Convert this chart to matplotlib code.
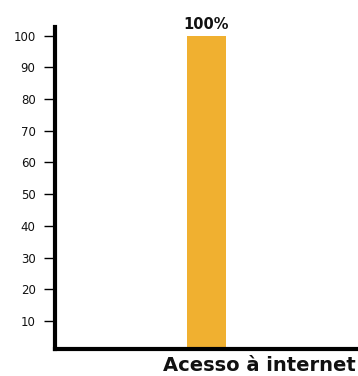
import matplotlib
matplotlib.use('Agg')
import matplotlib.pyplot as plt

# Data
categories = ['Acesso à internet']
values = [100]
yticks = [10, 20, 30, 40, 50, 60, 70, 80, 90, 100]

plt.rcParams['font.family'] = ['DejaVu Sans']

fig = plt.figure(figsize=(3.58, 3.76), dpi=100)
ax = fig.add_axes([55 / 358, 1 - 348.5 / 376, 303 / 358, (348.5 - 27) / 376])

bars = ax.bar([0], values, width=0.13, color='#F0B030', zorder=2)
for b, v in zip(bars, values):
    ax.text(b.get_x() + b.get_width() / 2, v + 1.2, f'{v}%', ha='center', va='bottom',
            fontsize=10.5, fontweight='bold', color='#111111')

ax.set_xlim(-0.5, 0.5)
ax.set_ylim(1.3, 102.7)
ax.set_yticks(yticks)
ax.set_yticklabels([str(t) for t in yticks], fontsize=8.5, fontweight='medium', color='#111111')
ax.tick_params(axis='y', length=8, width=1, pad=6, color='black')
ax.set_xticks([])

for s in ['top', 'right']:
    ax.spines[s].set_visible(False)
for s in ['left', 'bottom']:
    ax.spines[s].set_linewidth(3)
    ax.spines[s].set_color('black')

ax.text(0.993, -0.022, categories[0], transform=ax.transAxes, ha='right', va='top',
        fontsize=14, fontweight='bold', color='#111111')

fig.savefig('out.png', dpi=100)
